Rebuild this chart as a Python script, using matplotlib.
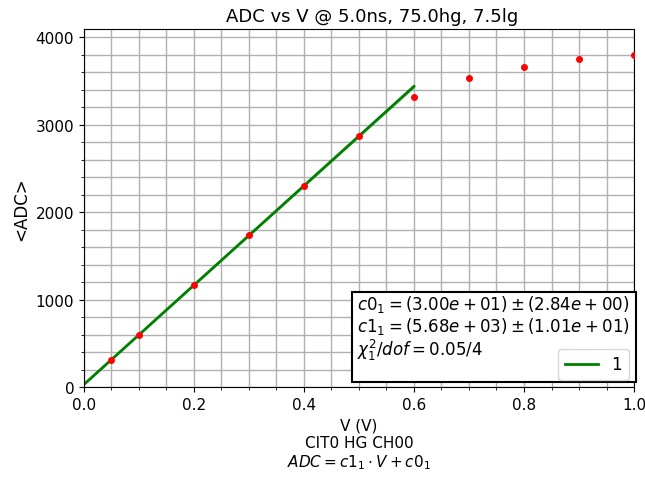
import numpy as np
import matplotlib
matplotlib.use("Agg")
import matplotlib.pyplot as plt
from matplotlib.ticker import MultipleLocator
from matplotlib.patches import Rectangle

# measured points
volts = [0.05, 0.1, 0.2, 0.3, 0.4, 0.5, 0.6, 0.7, 0.8, 0.9, 1.0]
adc = [314, 598, 1166, 1734, 2302, 2866, 3320, 3535, 3660, 3745, 3800]

# linear fit results
c0, c0_err = 30.0, 2.84
c1, c1_err = 5680.0, 10.1
fit_range = [0.0, 0.6]

fig, ax = plt.subplots(figsize=(6.45, 4.81), dpi=100)
fig.subplots_adjust(left=0.13, right=0.983, top=0.937, bottom=0.193)

vv = np.linspace(fit_range[0], fit_range[1], 100)
fit = c0 + c1 * vv
band = np.sqrt(c0_err**2 + (c1_err * vv)**2)
ax.fill_between(vv, fit - 3 * band, fit + 3 * band, color="green", alpha=0.4, lw=0)
ax.plot(vv, fit, color="green", lw=2, label="1")
ax.plot(volts, adc, "o", color="red", ms=4, zorder=3)

ax.set_xlim(0, 1.0)
ax.set_ylim(0, 4090)
ax.xaxis.set_minor_locator(MultipleLocator(0.05))
ax.yaxis.set_minor_locator(MultipleLocator(200))
ax.yaxis.set_major_locator(MultipleLocator(1000))
ax.grid(which="both", color="#b0b0b0", lw=1)
ax.set_axisbelow(True)
ax.tick_params(labelsize=11)

ax.set_title("ADC vs V @ 5.0ns, 75.0hg, 7.5lg", fontsize=13, x=0.524)
ax.set_ylabel("<ADC>", fontsize=12)
ax.set_xlabel("V (V)\nCIT0 HG CH00\n$ADC = c1_1 \\cdot V + c0_1$", fontsize=11)

# fit result box
ax.add_patch(Rectangle((0.487, 0.014), 0.517, 0.251, transform=ax.transAxes,
                       fc="white", ec="black", lw=1.5, clip_on=False, zorder=4))
lines = ["$c0_1 = (3.00e+01) \\pm (2.84e+00)$",
         "$c1_1 = (5.68e+03) \\pm (1.01e+01)$",
         "$\\chi_1^2/dof = 0.05/4$"]
for i, s in enumerate(lines):
    ax.text(0.496, 0.264 - i * 0.0615, s, transform=ax.transAxes, fontsize=12,
            va="top", ha="left", zorder=5)
leg = ax.legend(loc="lower right", fontsize=12, bbox_to_anchor=(0.99, 0.02),
                borderaxespad=0)
leg.set_zorder(6)

fig.savefig("out.png", dpi=100)
